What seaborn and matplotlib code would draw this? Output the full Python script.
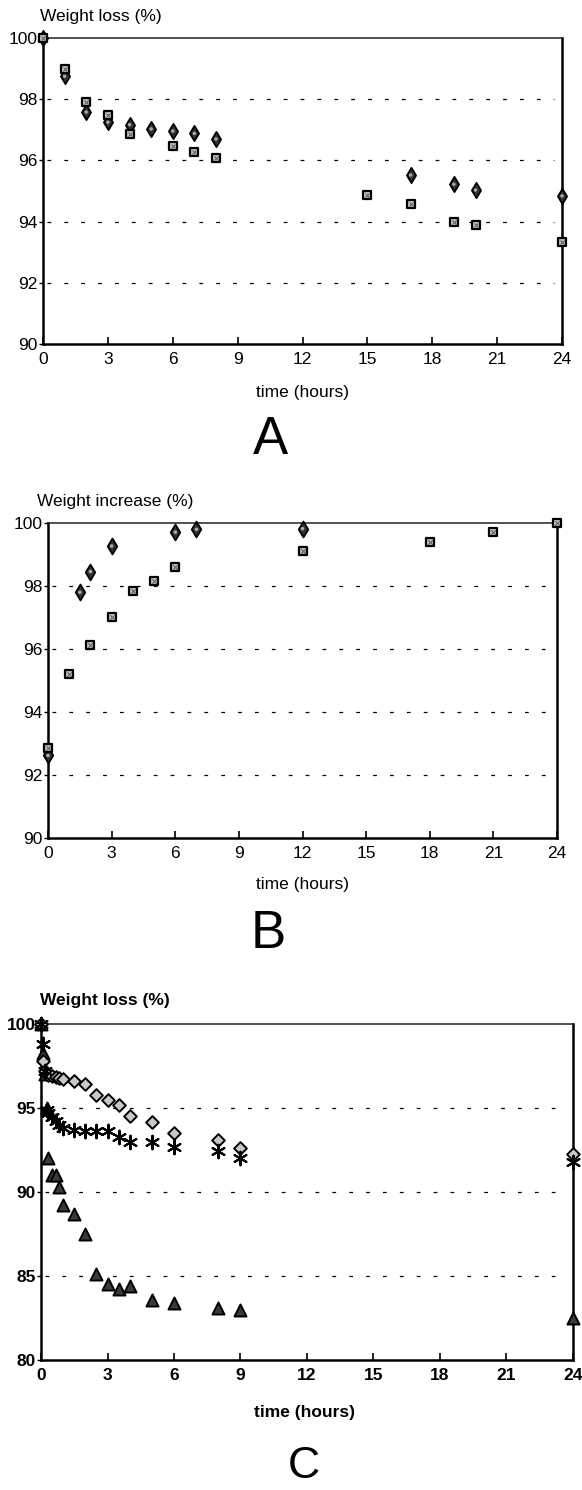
import matplotlib
matplotlib.use("Agg")
import matplotlib.pyplot as plt
import seaborn as sns

# ---------------- data ----------------
# Panel A : weight loss (%)
a_sq_time = [0, 1, 2, 3, 4, 6, 7, 8, 15, 17, 19, 20, 24]
a_sq_val = [100, 99.0, 97.9, 97.5, 96.85, 96.47, 96.27, 96.07, 94.87, 94.57, 94.0, 93.9, 93.32]
a_di_time = [0, 1, 2, 3, 4, 5, 6, 7, 8, 17, 19, 20, 24]
a_di_val = [100, 98.75, 97.58, 97.25, 97.17, 97.03, 96.96, 96.88, 96.7, 95.52, 95.22, 95.03, 94.84]

# Panel B : weight increase (%)
b_sq_time = [0, 1, 2, 3, 4, 5, 6, 12, 18, 21, 24]
b_sq_val = [92.87, 95.21, 96.14, 97.03, 97.85, 98.17, 98.6, 99.1, 99.4, 99.73, 100.0]
b_di_time = [0, 1.5, 2, 3, 6, 7, 12]
b_di_val = [92.62, 97.8, 98.46, 99.27, 99.71, 99.8, 99.82]

# Panel C : weight loss (%)
c_time = [0, 1/12, 1/6, 0.25, 1/3, 0.5, 2/3, 5/6, 1, 1.5, 2, 2.5, 3, 3.5, 4, 5, 6, 8, 9, 24]
c_diamond = [100, 97.8, 97.2, 97.0, 96.95, 96.9, 96.85, 96.8, 96.75, 96.63, 96.45,
             95.8, 95.5, 95.2, 94.55, 94.17, 93.52, 93.1, 92.6, 92.25]
c_star = [100, 98.8, 97.2, 94.9, 94.7, 94.45, 94.2, 94.0, 93.8, 93.7, 93.63,
          93.63, 93.63, 93.3, 93.0, 92.95, 92.65, 92.43, 92.02, 91.8]
c_triangle = [100, 98.3, 97.0, 95.0, 92.0, 91.0, 91.0, 90.3, 89.2, 88.7, 87.5,
              85.1, 84.5, 84.2, 84.4, 83.6, 83.4, 83.1, 83.0, 82.5]

x_ticks = [0, 3, 6, 9, 12, 15, 18, 21, 24]
ab_yticks = [90, 92, 94, 96, 98, 100]
ab_grid = [92, 94, 96, 98]
c_yticks = [80, 85, 90, 95, 100]
c_grid = [85, 90, 95]

# ---------------- style ----------------
sns.set_theme(style="white")
plt.rcParams["font.family"] = ["Liberation Sans", "DejaVu Sans"]
plt.rcParams["axes.facecolor"] = "white"
plt.rcParams["text.color"] = "black"
plt.rcParams["xtick.color"] = "black"
plt.rcParams["ytick.color"] = "black"

W, H = 582, 1490
fig = plt.figure(figsize=(W / 100, H / 100), dpi=100)


def ax_at(l, r, t, b):
    return fig.add_axes([l / W, 1 - b / H, (r - l) / W, (b - t) / H])


def text_at(px, py, s, **kw):
    fig.text(px / W, 1 - py / H, s, color="black", **kw)


def style_axes(ax, yticks, grid, ylim, bold=False):
    ax.set_xlim(0, 24)
    ax.set_ylim(*ylim)
    ax.set_xticks(x_ticks)
    ax.set_yticks(yticks)
    w = "bold" if bold else "normal"
    ax.set_xticklabels([str(v) for v in x_ticks], fontsize=12.5, fontweight=w, color="black")
    ax.set_yticklabels([str(v) for v in yticks], fontsize=12.5, fontweight=w, color="black")
    ax.tick_params(axis="x", direction="in", length=5, width=1.2, pad=6, colors="black",
                   bottom=True, top=False)
    ax.tick_params(axis="y", direction="out", length=3, width=1.0, pad=1, colors="black",
                   left=True, right=False)
    for g in grid:
        ax.axhline(g, color="black", lw=0.9, ls=(0, (3, 10.5)), xmin=0.008, xmax=0.985, zorder=1)
    for side in ["left", "right", "bottom"]:
        ax.spines[side].set_linewidth(1.8)
        ax.spines[side].set_color("black")
    ax.spines["top"].set_linewidth(1.1)
    ax.spines["top"].set_color("#222222")
    ax.set_xlabel("")
    ax.set_ylabel("")
    ax.grid(False)


def squares(ax, t, v, s=30):
    sns.scatterplot(x=t, y=v, ax=ax, marker="s", s=s, color="#c4c4c4", edgecolor="black",
                    linewidth=1.6, zorder=4, clip_on=False, legend=False)
    sns.scatterplot(x=t, y=v, ax=ax, marker="x", s=s * 0.25, color="#555555",
                    linewidth=0.7, zorder=5, clip_on=False, legend=False)


def dark_diamonds(ax, t, v, s=45):
    sns.scatterplot(x=t, y=v, ax=ax, marker="d", s=s, color="#333333", edgecolor="black",
                    linewidth=1.3, zorder=3, clip_on=False, legend=False)
    sns.scatterplot(x=t, y=v, ax=ax, marker="o", s=s * 0.1, color="#aaaaaa", edgecolor="none",
                    linewidth=0, zorder=3.5, clip_on=False, legend=False)


# ---------------- Panel A ----------------
axA = ax_at(43, 562, 38, 344)
dark_diamonds(axA, a_di_time, a_di_val, s=60)
squares(axA, a_sq_time, a_sq_val, s=34)
style_axes(axA, ab_yticks, ab_grid, (90, 100))
text_at(40, 17, "Weight loss (%)", fontsize=12.5, ha="left", va="center")
text_at(303, 393, "time (hours)", fontsize=12.5, ha="center", va="center")
text_at(270, 440, "A", fontsize=38, ha="center", va="center")

# ---------------- Panel B ----------------
axB = ax_at(48, 557, 523, 838)
dark_diamonds(axB, b_di_time, b_di_val, s=65)
squares(axB, b_sq_time, b_sq_val, s=40)
style_axes(axB, ab_yticks, ab_grid, (90, 100))
text_at(37, 502, "Weight increase (%)", fontsize=12.5, ha="left", va="center")
text_at(303, 884, "time (hours)", fontsize=12.5, ha="center", va="center")
text_at(268, 934, "B", fontsize=38, ha="center", va="center")

# ---------------- Panel C ----------------
axC = ax_at(41, 573, 1024, 1360)
sns.scatterplot(x=c_time, y=c_triangle, ax=axC, marker="^", s=75, color="#3a3a3a",
                edgecolor="black", linewidth=1.4, zorder=3, clip_on=False, legend=False)
sns.scatterplot(x=c_time, y=c_diamond, ax=axC, marker="D", s=42, color="#c8c8c8",
                edgecolor="black", linewidth=1.4, zorder=4, clip_on=False, legend=False)
sns.scatterplot(x=c_time, y=c_star, ax=axC, marker=(6, 2, 0), s=95, color="black",
                linewidth=1.5, zorder=5, clip_on=False, legend=False)
style_axes(axC, c_yticks, c_grid, (80, 100), bold=True)
text_at(40, 1000, "Weight loss (%)", fontsize=12.5, fontweight="bold", ha="left", va="center")
text_at(304, 1412, "time (hours)", fontsize=12.5, fontweight="bold", ha="center", va="center")
text_at(304, 1466, "C", fontsize=32, ha="center", va="center")

fig.savefig("out.png", dpi=100, facecolor="white")
